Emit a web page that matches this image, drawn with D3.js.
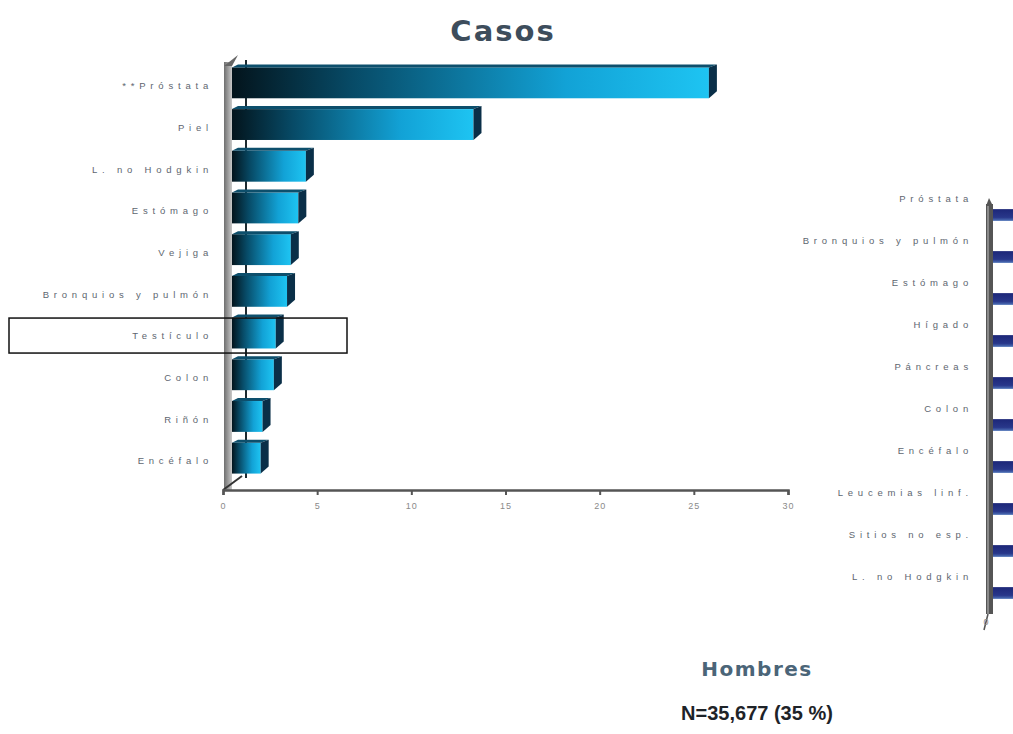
<!DOCTYPE html>
<html>
<head>
<meta charset="utf-8">
<script src="https://cdn.jsdelivr.net/npm/d3@7"></script>
<style>
html,body{margin:0;padding:0;background:#fff;}
svg{display:block;}
</style>
</head>
<body>
<svg id="chart" width="1013" height="734"></svg>
<script>
// ---- Data ----
const leftCategories = ["**Próstata","Piel","L. no Hodgkin","Estómago","Vejiga","Bronquios y pulmón","Testículo","Colon","Riñón","Encéfalo"];
const leftValues = [25.8, 13.3, 4.4, 4.0, 3.6, 3.4, 2.8, 2.7, 2.1, 2.0];
const rightCategories = ["Próstata","Bronquios y pulmón","Estómago","Hígado","Páncreas","Colon","Encéfalo","Leucemias linf.","Sitios no esp.","L. no Hodgkin"];
const rightValues = [16.4, 14.4, 9.0, 6.2, 4.5, 3.4, 3.2, 3.0, 2.9, 2.7];
const xTicks = [0, 5, 10, 15, 20, 25, 30];
const titleText = "Casos";
const groupText = "Hombres";
const totalText = "N=35,677 (35 %)";
const highlighted = "Testículo";

const svg = d3.select("#chart");
const defs = svg.append("defs");

const gFront = defs.append("linearGradient").attr("id","gFront").attr("x1","0").attr("x2","1").attr("y1","0").attr("y2","0");
gFront.append("stop").attr("offset","0").attr("stop-color","#03141c");
gFront.append("stop").attr("offset","0.25").attr("stop-color","#074a66");
gFront.append("stop").attr("offset","0.7").attr("stop-color","#12a2d6");
gFront.append("stop").attr("offset","1").attr("stop-color","#1ec4f2");

const gWall = defs.append("linearGradient").attr("id","gWall").attr("x1","0").attr("x2","1");
gWall.append("stop").attr("offset","0").attr("stop-color","#6f6f6f");
gWall.append("stop").attr("offset","1").attr("stop-color","#c8c8c8");

const gNavy = defs.append("linearGradient").attr("id","gNavy").attr("x1","0").attr("x2","0").attr("y1","0").attr("y2","1");
gNavy.append("stop").attr("offset","0").attr("stop-color","#1d2778");
gNavy.append("stop").attr("offset","0.7").attr("stop-color","#28378a");
gNavy.append("stop").attr("offset","1").attr("stop-color","#4f74b8");

// ---- Title ----
svg.append("text").attr("x",503).attr("y",41).attr("text-anchor","middle")
  .attr("font-family","DejaVu Sans, Arial, sans-serif").attr("font-weight","bold")
  .attr("font-size",29).attr("letter-spacing","2px").attr("fill","#3d4d5c").text(titleText);

// ---- Left chart ----
const x = d3.scaleLinear().domain([0,30]).range([223,788]);
const y = d3.scaleBand().domain(leftCategories).range([62,479]).paddingInner(0.26).paddingOuter(0.13);
const wallX0 = 224, wallX1 = 232, axisY = 490;

// wall
svg.append("rect").attr("x",wallX0).attr("y",62).attr("width",wallX1-wallX0).attr("height",axisY-62).attr("fill","url(#gWall)");
svg.append("path").attr("d",`M${wallX0},66 L${wallX0+14},55 L${wallX1},66 Z`).attr("fill","#666");
svg.append("line").attr("x1",246).attr("x2",246).attr("y1",60).attr("y2",478).attr("stroke","#1d2a30").attr("stroke-width",2);
// floor
svg.append("path").attr("d",`M${wallX0-1},${axisY} L${wallX0+18},${axisY-14}`).attr("stroke","#333").attr("stroke-width",2);

// axis
const xAxis = d3.axisBottom(x).tickValues(xTicks).tickSize(5).tickPadding(8);
const ax = svg.append("g").attr("transform",`translate(0,${axisY})`).call(xAxis);
ax.select(".domain").attr("stroke","#555").attr("stroke-width",2.5);
ax.selectAll(".tick line").attr("stroke","#555").attr("stroke-width",2);
ax.selectAll(".tick text").attr("font-family","Arial, sans-serif").attr("font-size",9).attr("fill","#8a8a8a").attr("letter-spacing","1px");

// bars
const bars = svg.append("g");
leftCategories.forEach((c,i)=>{
  const top = y(c), h = y.bandwidth(), bot = top + h, xe = x(leftValues[i]);
  bars.append("rect").attr("x",wallX1).attr("y",top).attr("width",xe-wallX1).attr("height",h).attr("fill","url(#gFront)");
  bars.append("path").attr("d",`M${wallX1},${top} L${wallX1+6},${top-3} L${xe+8},${top-3} L${xe},${top} Z`).attr("fill","#0d4f6c");
  bars.append("path").attr("d",`M${xe},${top} L${xe+8},${top-3} L${xe+8},${bot-7} L${xe},${bot} Z`).attr("fill","#0a2f48");
});

// labels
svg.append("g").selectAll("text").data(leftCategories).join("text")
  .attr("x",213).attr("y",d=>y(d)+y.bandwidth()/2+3).attr("dy","0.35em").attr("text-anchor","end")
  .attr("font-family","Arial, sans-serif").attr("font-size",9.5).attr("letter-spacing","4.8px").attr("fill","#5e6670").text(d=>d);

// highlight box
const hy = y(highlighted) + y.bandwidth()/2 + 3;
svg.append("rect").attr("x",9).attr("y",hy-18).attr("width",338).attr("height",35).attr("fill","none").attr("stroke","#111").attr("stroke-width",1.5);

// ---- Right chart (cut off at edge) ----
const x2 = d3.scaleLinear().domain([0,30]).range([990,1555]);
const y2 = d3.scaleBand().domain(rightCategories).range([178,598]).paddingInner(0.72).paddingOuter(0.36);
svg.append("rect").attr("x",986).attr("y",204).attr("width",7).attr("height",410).attr("fill","#555");
svg.append("rect").attr("x",987).attr("y",204).attr("width",2).attr("height",410).attr("fill","#8a8a8a");
svg.append("path").attr("d","M986,206 L989,198 L993,206 Z").attr("fill","#555");
svg.append("path").attr("d","M984,630 L988,614").attr("stroke","#555").attr("stroke-width",1.5);
svg.append("g").selectAll("rect").data(rightCategories).join("rect")
  .attr("x",x2(0)+3).attr("y",d=>y2(d)+16).attr("width",(d,i)=>x2(rightValues[i])-x2(0)).attr("height",y2.bandwidth())
  .attr("fill","url(#gNavy)");
svg.append("g").selectAll("text").data(rightCategories).join("text")
  .attr("x",973).attr("y",d=>y2(d)+y2.bandwidth()/2).attr("dy","0.35em").attr("text-anchor","end")
  .attr("font-family","Arial, sans-serif").attr("font-size",9.5).attr("letter-spacing","4.8px").attr("fill","#5e6670").text(d=>d);
svg.append("text").attr("x",x2(0)-4).attr("y",625).attr("text-anchor","middle").attr("font-family","Arial, sans-serif").attr("font-size",9).attr("fill","#888").text(xTicks[0]);

// ---- Footer ----
svg.append("text").attr("x",757).attr("y",676).attr("text-anchor","middle")
  .attr("font-family","DejaVu Sans, Arial, sans-serif").attr("font-weight","bold").attr("font-size",20).attr("letter-spacing","1.5px")
  .attr("fill","#4b6578").text(groupText);
svg.append("text").attr("x",757).attr("y",720).attr("text-anchor","middle")
  .attr("font-family","Arial, sans-serif").attr("font-weight","bold").attr("font-size",20)
  .attr("fill","#1e2328").text(totalText);
</script>
</body>
</html>
